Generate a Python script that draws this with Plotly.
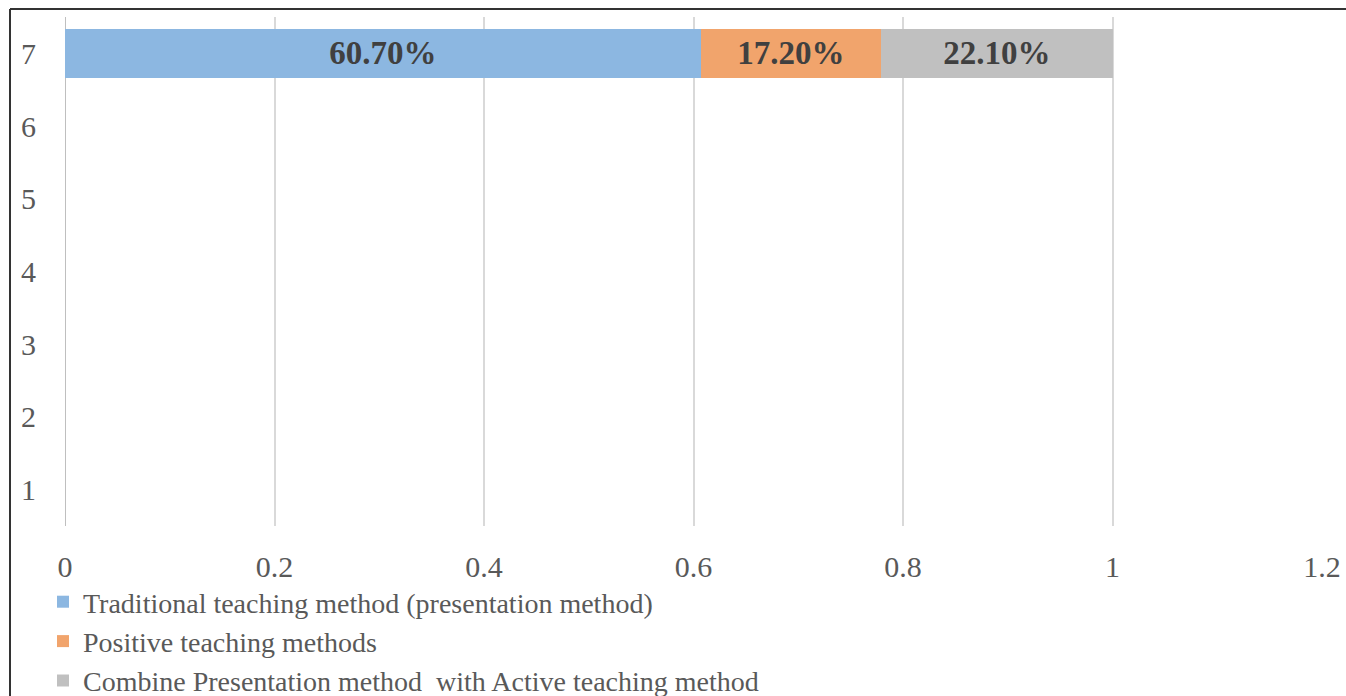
import plotly.graph_objects as go

categories = [1, 2, 3, 4, 5, 6, 7]
traditional = [None, None, None, None, None, None, 0.607]
positive = [None, None, None, None, None, None, 0.172]
combined = [None, None, None, None, None, None, 0.221]
series_names = [
    "Traditional teaching method (presentation method)",
    "Positive teaching methods",
    "Combine Presentation method  with Active teaching method",
]
colors = ["#8CB7E1", "#F1A46C", "#C0C0C0"]
x_ticks = [0, 0.2, 0.4, 0.6, 0.8, 1, 1.2]
x_tick_labels = ["0", "0.2", "0.4", "0.6", "0.8", "1", "1.2"]

FONT = "Liberation Serif, Times New Roman, serif"

def labels(vals):
    return [None if v is None else f"{v*100:.2f}%" for v in vals]

fig = go.Figure()
for name, vals, col in zip(series_names, [traditional, positive, combined], colors):
    fig.add_trace(go.Bar(
        y=categories, x=vals, name=name, orientation="h",
        marker=dict(color=col, line=dict(width=0)),
        text=labels(vals), textposition="inside", insidetextanchor="middle",
        textangle=0,
        textfont=dict(family=FONT, size=33, color="#404040", weight="bold"),
    ))

W, H = 1346, 696
ml, mr, mt, mb = 65, 24, 17, 170
pw, ph = W - ml - mr, H - mt - mb
legend_top = 577

def px(xp):
    return (xp - ml) / pw

def py(yp):
    return (H - mb - yp) / ph

fig.update_layout(
    width=W, height=H,
    barmode="stack", bargap=0.33,
    margin=dict(l=ml, r=mr, t=mt, b=mb, autoexpand=False),
    plot_bgcolor="white", paper_bgcolor="white",
    font=dict(family=FONT, size=30, color="#595959"),
    showlegend=True,
    uniformtext=dict(minsize=10, mode="show"),
    legend=dict(
        orientation="v", traceorder="normal",
        xref="paper", yref="container",
        x=px(43), xanchor="left", y=1 - legend_top / H, yanchor="top",
        font=dict(family=FONT, size=28, color="#595959"),
        tracegroupgap=0, bgcolor="rgba(0,0,0,0)",
    ),
    xaxis=dict(
        range=[0, 1.2], tickvals=x_ticks, ticktext=x_tick_labels,
        showgrid=True, gridcolor="#D9D9D9", gridwidth=2,
        zeroline=False, showline=False, ticks="",
        ticklabelstandoff=20,
        tickfont=dict(family=FONT, size=30, color="#595959"),
    ),
    yaxis=dict(
        range=[0.5, 7.5], tickvals=categories, ticktext=[str(c) for c in categories],
        showgrid=False, zeroline=False, showline=False, ticks="",
        ticklabelstandoff=28,
        tickfont=dict(family=FONT, size=30, color="#595959"),
    ),
    shapes=[
        dict(type="line", xref="paper", yref="paper", x0=px(10), x1=px(1360),
             y0=py(9), y1=py(9), line=dict(color="#333333", width=2)),
        dict(type="line", xref="paper", yref="paper", x0=px(10), x1=px(10),
             y0=py(9), y1=py(710), line=dict(color="#333333", width=2)),
        dict(type="line", xref="x", yref="paper", x0=0, x1=0, y0=0, y1=1,
             line=dict(color="#BFBFBF", width=2), layer="below"),
    ],
)

fig.write_html("out.html", config={"displayModeBar": False})

with open("out.html", "r", encoding="utf-8") as f:
    html = f.read()
html = html.replace("<head>", "<head><style>html,body{margin:0;padding:0;overflow:hidden;}</style>", 1)
with open("out.html", "w", encoding="utf-8") as f:
    f.write(html)
